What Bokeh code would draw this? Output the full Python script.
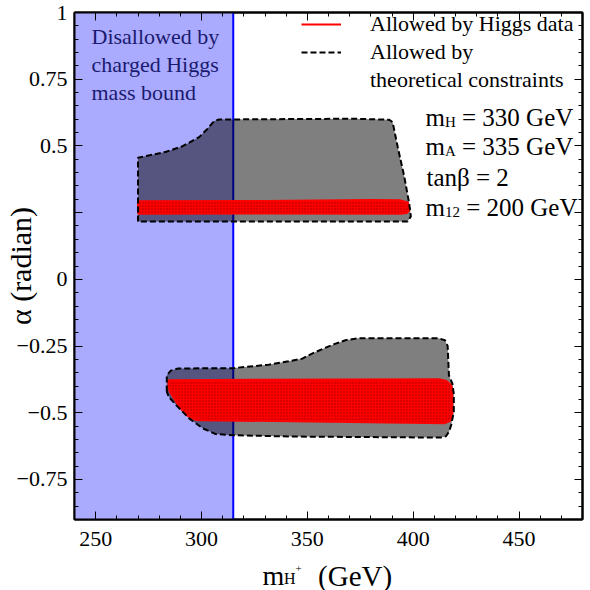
import math
from bokeh.plotting import figure
from bokeh.layouts import column
from bokeh.models import (Range1d, LinearAxis, SingleIntervalTicker, CustomJSTickFormatter,
                          BoxAnnotation, Span, Label, Legend, LegendItem)
from bokeh.core.properties import value
from bokeh.embed import file_html
from bokeh.resources import INLINE

# ---------------- data ----------------
x_limits = (240, 480)
y_limits = (-0.9, 1.0)
x_tick_values = [250, 300, 350, 400, 450]
x_tick_labels = ["250", "300", "350", "400", "450"]
y_tick_values = [-0.75, -0.5, -0.25, 0, 0.25, 0.5, 0.75, 1]
y_tick_labels = ["\u22120.75", "\u22120.5", "\u22120.25", "0", "", "0.5", "0.75", "1"]

mass_bound = 315  # charged Higgs mass bound (GeV)

# upper island: allowed by theoretical constraints
upper_theory_x = [270.0, 270.0, 275.5, 283.3, 291.1, 298.9, 302.8, 306.0, 308.3, 372.2,
                  388.7, 390.3, 392.7, 395.8, 398.1, 398.9, 397.4]
upper_theory_y = [0.217, 0.456, 0.465, 0.478, 0.499, 0.533, 0.564, 0.593, 0.599, 0.602,
                  0.598, 0.589, 0.496, 0.385, 0.285, 0.236, 0.217]
# upper island: allowed by Higgs data
upper_higgs_x = [270.0, 270.0, 330.0, 380.0, 394.0, 397.5, 398.3, 397.0, 394.0, 330.0]
upper_higgs_y = [0.246, 0.293, 0.294, 0.297, 0.296, 0.288, 0.260, 0.249, 0.246, 0.247]

# lower island: allowed by theoretical constraints
lower_theory_x = [283.6, 283.6, 285.5, 289.0, 314.5, 331.7, 347.4, 352.0, 358.0, 363.0,
                  368.0, 374.0, 412.0, 415.0, 416.3, 416.9, 418.5, 419.2, 419.2, 418.0,
                  417.0, 415.5, 413.0, 342.0, 315.0, 306.7, 300.5, 294.2, 288.0, 284.5]
lower_theory_y = [-0.42, -0.36, -0.342, -0.334, -0.333, -0.32, -0.298, -0.279, -0.258, -0.242,
                  -0.228, -0.221, -0.221, -0.228, -0.25, -0.36, -0.39, -0.43, -0.496, -0.545,
                  -0.57, -0.588, -0.593, -0.589, -0.584, -0.58, -0.558, -0.521, -0.471, -0.44]
# lower island: allowed by Higgs data
lower_higgs_x = [284.4, 412.0, 415.5, 417.8, 418.5, 418.5, 417.5, 415.0, 300.0, 297.3,
                 292.6, 288.0, 285.0, 284.4]
lower_higgs_y = [-0.378, -0.374, -0.38, -0.395, -0.41, -0.508, -0.53, -0.539, -0.528, -0.527,
                 -0.508, -0.459, -0.42, -0.40]

legend_labels = ["Allowed by Higgs data", "Allowed by", "theoretical constraints"]
region_lines = ["Disallowed by", "charged Higgs", "mass bound"]
y_title = "\u03b1 (radian)"

SERIF = "Liberation Serif"
BASE_FIX = 8   # alphabetic-baseline correction (px)

# ---------------- main figure ----------------
MAIN_H = 556
p = figure(width=590, height=MAIN_H,
           x_range=Range1d(*x_limits), y_range=Range1d(*y_limits),
           output_backend="svg", toolbar_location=None,
           min_border_left=71, min_border_right=8, min_border_top=12,
           min_border_bottom=MAIN_H - 519,
           background_fill_color="white", border_fill_color="white")
p.xgrid.visible = False
p.ygrid.visible = False
p.outline_line_color = "black"
p.outline_line_width = 2

def make_fmt(vals, labs):
    return CustomJSTickFormatter(args=dict(vals=vals, labs=labs), code="""
        for (let i = 0; i < vals.length; i++) {
            if (Math.abs(tick - vals[i]) < 1e-6) return labs[i];
        }
        return "";
    """)

blank_fmt = CustomJSTickFormatter(code='return "";')

xt = SingleIntervalTicker(interval=50, num_minor_ticks=5)
yt = SingleIntervalTicker(interval=0.25, num_minor_ticks=5)

def style_axis(ax, show_labels):
    ax.major_tick_in = 8
    ax.major_tick_out = 0
    ax.minor_tick_in = 4
    ax.minor_tick_out = 0
    ax.axis_line_width = 2
    ax.axis_line_color = "black"
    ax.major_tick_line_color = "black"
    ax.minor_tick_line_color = "black"
    ax.major_tick_line_width = 1
    ax.minor_tick_line_width = 1
    ax.major_label_text_font = SERIF
    ax.major_label_text_color = "black"
    if show_labels:
        ax.major_label_text_font_size = "22px"
    else:
        ax.formatter = blank_fmt
        ax.major_label_text_font_size = "0px"
        ax.major_label_standoff = 0

p.xaxis[0].ticker = xt
p.xaxis[0].formatter = make_fmt(x_tick_values, x_tick_labels)
style_axis(p.xaxis[0], True)
p.xaxis[0].major_label_standoff = 12

p.yaxis[0].ticker = yt
p.yaxis[0].formatter = make_fmt(y_tick_values, y_tick_labels)
style_axis(p.yaxis[0], True)
p.yaxis[0].major_label_standoff = 7
p.yaxis[0].axis_label = y_title
p.yaxis[0].axis_label_text_font = SERIF
p.yaxis[0].axis_label_text_font_size = "30px"
p.yaxis[0].axis_label_text_font_style = "normal"
p.yaxis[0].axis_label_text_color = "black"
p.yaxis[0].axis_label_standoff = -23

top_ax = LinearAxis(ticker=xt)
style_axis(top_ax, False)
p.add_layout(top_ax, "above")
right_ax = LinearAxis(ticker=yt)
style_axis(right_ax, False)
p.add_layout(right_ax, "right")

# ---------------- marks ----------------
p.add_layout(BoxAnnotation(right=mass_bound, fill_color="#AAAAFF", fill_alpha=1.0,
                           line_color=None, level="underlay"))
p.add_layout(Span(location=mass_bound, dimension="height", line_color="#0000FF",
                  line_width=2, level="underlay"))

outline_renderers = []
higgs_renderers = []
for tx, ty, hx, hy in [(upper_theory_x, upper_theory_y, upper_higgs_x, upper_higgs_y),
                       (lower_theory_x, lower_theory_y, lower_higgs_x, lower_higgs_y)]:
    p.patch(tx, ty, fill_color="black", fill_alpha=0.5, line_color=None)
    p.patch(hx, hy, fill_color="#FF0000", line_color=None,
            hatch_pattern="dot", hatch_color="black", hatch_scale=3, hatch_alpha=0.35)
    higgs_renderers.append(p.line(hx + hx[:1], hy + hy[:1], line_color="#FF0000", line_width=2))
    outline_renderers.append(p.line(tx + tx[:1], ty + ty[:1], line_color="black",
                                    line_width=2, line_dash="6 3"))

r_none = p.line([], [], line_alpha=0)
legend = Legend(items=[LegendItem(label=legend_labels[0], renderers=[higgs_renderers[0]]),
                       LegendItem(label=legend_labels[1], renderers=[outline_renderers[0]]),
                       LegendItem(label=legend_labels[2], renderers=[r_none])],
                location=(227, 426), glyph_width=40, glyph_height=26, label_height=26,
                spacing=2, label_standoff=29, padding=0, margin=0,
                border_line_color=None, background_fill_alpha=0,
                label_text_font=SERIF, label_text_font_size="22px",
                label_text_color="black")
p.add_layout(legend)

# ---------------- texts inside the frame ----------------
FL, FB = 71, 519  # frame left / bottom in page pixels

def lab(text, ix, iy, size, color="black"):
    p.add_layout(Label(x=ix - FL, y=FB - (iy - BASE_FIX), x_units="screen", y_units="screen",
                       text=text, text_font=SERIF, text_font_size=f"{size}px",
                       text_align="left", text_baseline="alphabetic", text_color=color))

for i, t in enumerate(region_lines):
    lab(t, 88, 44 + 28 * i, 22, color="#1a1a6e")

X0 = 422
W_M = 0.778 * 25      # width of "m" at 25px
W_SP = 0.25 * 25      # width of a space at 25px
lab("m", X0, 125, 25)
lab("H", X0 + W_M, 129, 15)
lab("= 330 GeV", X0 + W_M + 10.8 + W_SP, 125, 25)
lab("m", X0, 154, 25)
lab("A", X0 + W_M, 158, 15)
lab("= 335 GeV", X0 + W_M + 10.8 + W_SP, 154, 25)
lab("tan\u03b2 = 2", X0 + 1, 185, 25)
lab("m", X0, 215, 25)
lab("12", X0 + W_M, 219, 15)
lab("= 200 GeV", X0 + W_M + 15.0 + W_SP, 215, 25)

# ---------------- x-axis title strip ----------------
STRIP_TOP, STRIP_H = MAIN_H, 590 - MAIN_H
lp = figure(width=590, height=STRIP_H, x_range=Range1d(71, 582), y_range=Range1d(0, STRIP_H),
            output_backend="svg", toolbar_location=None,
            min_border_left=71, min_border_right=8, min_border_top=0, min_border_bottom=0,
            x_axis_type=None, y_axis_type=None, outline_line_color=None,
            background_fill_color="white", border_fill_color="white")
lp.grid.visible = False

def strip_text(text, px, py, size):
    lp.text(x=[px], y=[STRIP_TOP + STRIP_H - (py - BASE_FIX)], text=[text],
            text_font=value(SERIF), text_font_size=value(f"{size}px"), text_align="left",
            text_baseline="alphabetic", text_color="black")

strip_text("m", 260, 583, 28)
strip_text("H", 260 + 0.778 * 28, 586, 16)
strip_text("+", 260 + 0.778 * 28 + 0.722 * 16, 576, 11)
strip_text("(GeV)", 316, 583, 29)

open("out.html", "w").write(file_html(column(p, lp), INLINE))
